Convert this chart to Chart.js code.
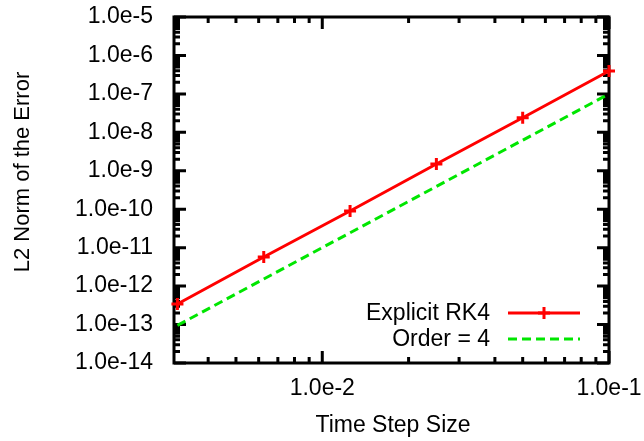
<!DOCTYPE html>
<html>
<head>
<meta charset="utf-8">
<script src="https://cdn.jsdelivr.net/npm/chart.js@4/dist/chart.umd.min.js"></script>
<style>
  html, body { margin: 0; padding: 0; background: #fff; }
  #wrap { width: 644px; height: 441px; }
</style>
</head>
<body>
<div id="wrap"><canvas id="c" width="644" height="441"></canvas></div>
<script>
// time step sizes
const stepSizes = [0.003125, 0.00625, 0.0125, 0.025, 0.05, 0.1];
// measured L2 error of explicit RK4
const rk4Error = [3.42e-13, 5.71e-12, 8.97e-11, 1.50e-9, 2.40e-8, 3.94e-7];
// reference 4th order slope
const order4 = [9.54e-14, 1.53e-12, 2.44e-11, 3.91e-10, 6.25e-9, 1.0e-7];
// axis ticks
const xTicks = [0.01, 0.1];
const yTicks = [1e-14, 1e-13, 1e-12, 1e-11, 1e-10, 1e-9, 1e-8, 1e-7, 1e-6, 1e-5];
const seriesNames = ['Explicit RK4', 'Order = 4'];

const FONT = "'Liberation Sans', Arial, sans-serif";

// labels may overhang the plot, so don't let chart.js shrink it for them
function noPad(s) {
  s.paddingTop = 0; s.paddingBottom = 0; s.paddingLeft = 0; s.paddingRight = 0;
}

// gnuplot style frame with inward ticks on all four sides
const framePlugin = {
  id: 'frame',
  beforeDatasetsDraw(chart) {
    const { ctx, chartArea: a, scales } = chart;
    ctx.save();
    ctx.strokeStyle = '#000';
    ctx.lineWidth = 3;
    ctx.lineCap = 'butt';
    ctx.strokeRect(a.left, a.top, a.right - a.left, a.bottom - a.top);

    const minorVals = (scale) => {
      const out = [];
      const lo = Math.floor(Math.log10(scale.min)), hi = Math.ceil(Math.log10(scale.max));
      for (let d = lo; d <= hi; d++) {
        for (let k = 1; k <= 9; k++) {
          const v = k * Math.pow(10, d);
          if (v >= scale.min * 0.9999 && v <= scale.max * 1.0001) out.push([v, k === 1]);
        }
      }
      return out;
    };
    ctx.beginPath();
    minorVals(scales.x).forEach(([v, major]) => {
      const px = scales.x.getPixelForValue(v), len = major ? 12 : 6;
      ctx.moveTo(px, a.bottom); ctx.lineTo(px, a.bottom - len);
      ctx.moveTo(px, a.top); ctx.lineTo(px, a.top + len);
    });
    minorVals(scales.y).forEach(([v, major]) => {
      const py = scales.y.getPixelForValue(v), len = major ? 12 : 6;
      ctx.moveTo(a.left, py); ctx.lineTo(a.left + len, py);
      ctx.moveTo(a.right, py); ctx.lineTo(a.right - len, py);
    });
    ctx.stroke();

    // axis titles
    ctx.fillStyle = '#000';
    ctx.font = '23px ' + FONT;
    ctx.textAlign = 'center';
    ctx.textBaseline = 'middle';
    ctx.fillText('Time Step Size', 393, 426);
    ctx.save();
    ctx.translate(23, 172);
    ctx.rotate(-Math.PI / 2);
    ctx.font = '22px ' + FONT;
    ctx.fillText('L2 Norm of the Error', 0, 0);
    ctx.restore();
    ctx.restore();
  },
  afterDatasetsDraw(chart) {
    // key in the lower right corner
    const { ctx } = chart;
    const ds = chart.data.datasets;
    const rows = [313, 339];
    ctx.save();
    ctx.font = '23px ' + FONT;
    ctx.textAlign = 'right';
    ctx.textBaseline = 'middle';
    ds.forEach((d, i) => {
      const y = rows[i];
      ctx.fillStyle = '#000';
      ctx.fillText(d.label, 490, y + 1);
      ctx.strokeStyle = d.borderColor;
      ctx.lineWidth = d.borderWidth;
      ctx.setLineDash(d.borderDash || []);
      ctx.beginPath();
      ctx.moveTo(508, y); ctx.lineTo(580, y);
      ctx.stroke();
      ctx.setLineDash([]);
      if (d.pointRadius > 0) {
        ctx.lineWidth = d.pointBorderWidth;
        ctx.beginPath();
        ctx.moveTo(544 - d.pointRadius, y); ctx.lineTo(544 + d.pointRadius, y);
        ctx.moveTo(544, y - d.pointRadius); ctx.lineTo(544, y + d.pointRadius);
        ctx.stroke();
      }
    });
    ctx.restore();
  }
};

new Chart(document.getElementById('c'), {
  type: 'line',
  data: {
    datasets: [
      {
        label: seriesNames[0],
        data: stepSizes.map((x, i) => ({ x, y: rk4Error[i] })),
        borderColor: '#ff0000',
        backgroundColor: '#ff0000',
        borderWidth: 3,
        pointStyle: 'cross',
        pointRadius: 6,
        pointBorderWidth: 3,
        pointBorderColor: '#ff0000',
        tension: 0,
        clip: false
      },
      {
        label: seriesNames[1],
        data: stepSizes.map((x, i) => ({ x, y: order4[i] })),
        borderColor: '#00e600',
        backgroundColor: '#00e600',
        borderWidth: 3,
        borderDash: [9, 5],
        pointRadius: 0,
        tension: 0,
        clip: false
      }
    ]
  },
  options: {
    responsive: false,
    animation: false,
    devicePixelRatio: 1,
    layout: { padding: { left: 0, right: 35, top: 17, bottom: 0 } },
    plugins: { legend: { display: false }, tooltip: { enabled: false } },
    scales: {
      x: {
        type: 'logarithmic',
        min: 0.00304,
        max: 0.1,
        grid: { display: false, drawTicks: false },
        border: { display: false },
        afterBuildTicks: (s) => { s.ticks = xTicks.map(v => ({ value: v })); },
        afterFit: (s) => { s.height = 78; noPad(s); },
        ticks: {
          autoSkip: false,
          maxRotation: 0,
          padding: 12,
          color: '#000',
          font: { family: FONT, size: 23 },
          callback: (v) => Number(v).toExponential(1)
        }
      },
      y: {
        type: 'logarithmic',
        min: 1e-14,
        max: 1e-5,
        grid: { display: false, drawTicks: false },
        border: { display: false },
        afterBuildTicks: (s) => { s.ticks = yTicks.map(v => ({ value: v })); },
        afterFit: (s) => { s.width = 174; noPad(s); },
        ticks: {
          autoSkip: false,
          padding: 21,
          color: '#000',
          font: { family: FONT, size: 23 },
          callback: (v) => Number(v).toExponential(1)
        }
      }
    }
  },
  plugins: [framePlugin]
});
</script>
</body>
</html>
